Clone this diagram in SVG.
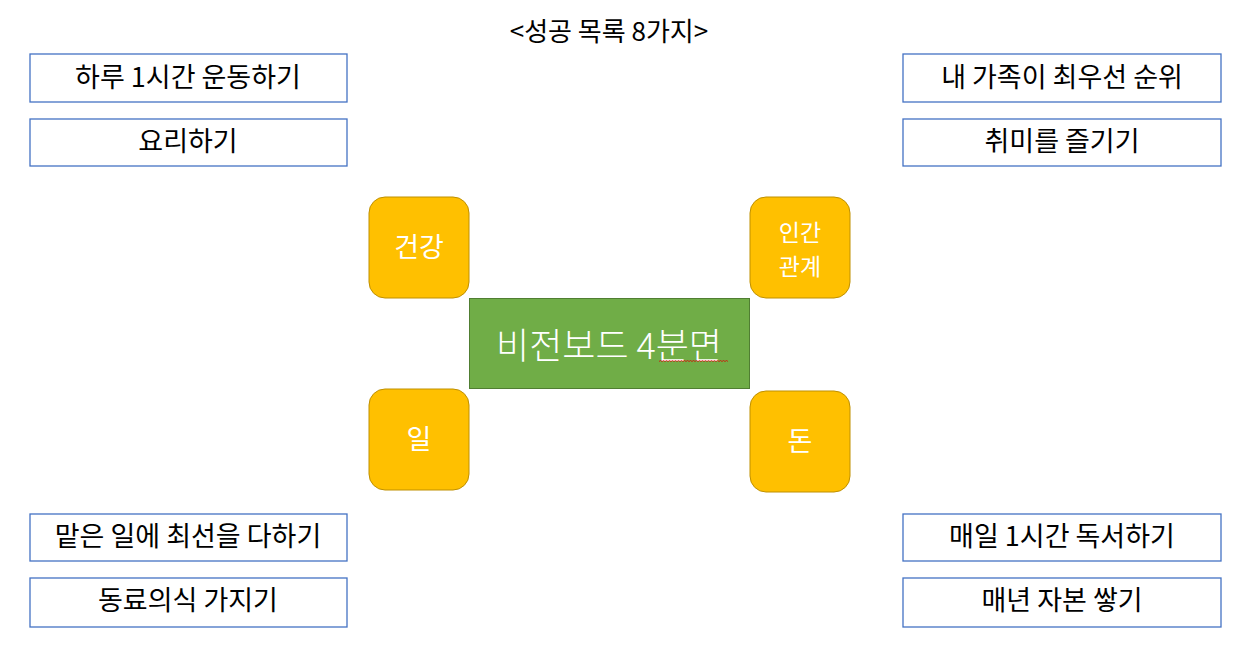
<svg xmlns="http://www.w3.org/2000/svg" width="1246" height="652" viewBox="0 0 1246 652">
<style>
.box{fill:#fff;stroke:#4472C4;stroke-width:1.3}
.bt{font-family:"Noto Sans CJK KR","Noto Sans",sans-serif;font-size:27px;fill:#000;text-anchor:middle}
.cat{fill:#FFC000;stroke:#BF9000;stroke-width:1}
.ct{font-family:"Noto Sans CJK KR","Noto Sans",sans-serif;font-size:27px;fill:#fff;text-anchor:middle}
.gt{font-family:"Noto Sans CJK KR","Noto Sans",sans-serif;font-size:36px;font-weight:300;fill:#fff;text-anchor:middle}
</style>
<rect width="1246" height="652" fill="#fff"/>
<text x="609" y="41" class="bt" style="font-size:26px">&lt;성공 목록 8가지&gt;</text>
<g id="n1"><rect class="box" x="30" y="54" width="317" height="48"/><text class="bt" x="188" y="87">하루 1시간 운동하기</text></g>
<g id="n2"><rect class="box" x="30" y="119" width="317" height="47"/><text class="bt" x="188" y="151">요리하기</text></g>
<g id="n3"><rect class="box" x="903" y="54" width="318" height="48"/><text class="bt" x="1062" y="87">내 가족이 최우선 순위</text></g>
<g id="n4"><rect class="box" x="903" y="119" width="318" height="47"/><text class="bt" x="1062" y="151">취미를 즐기기</text></g>
<g id="n5"><rect class="box" x="30" y="514" width="317" height="47"/><text class="bt" x="188" y="546">맡은 일에 최선을 다하기</text></g>
<g id="n6"><rect class="box" x="30" y="578" width="317" height="49"/><text class="bt" x="188" y="610">동료의식 가지기</text></g>
<g id="n7"><rect class="box" x="903" y="514" width="318" height="47"/><text class="bt" x="1062" y="546">매일 1시간 독서하기</text></g>
<g id="n8"><rect class="box" x="903" y="578" width="318" height="49"/><text class="bt" x="1062" y="610">매년 자본 쌓기</text></g>
<g id="c1"><rect class="cat" x="369" y="197" width="100" height="101" rx="16"/><text class="ct" x="419" y="257">건강</text></g>
<g id="c2"><rect class="cat" x="750" y="197" width="100" height="101" rx="16"/><text class="ct" x="800" y="241" style="font-size:23px">인간</text><text class="ct" x="800" y="274.5" style="font-size:23px">관계</text></g>
<g id="c3"><rect class="cat" x="369" y="389" width="100" height="101" rx="16"/><text class="ct" x="419" y="449">일</text></g>
<g id="c4"><rect class="cat" x="750" y="391" width="100" height="101" rx="16"/><text class="ct" x="800" y="451">돈</text></g>
<g id="center"><rect x="469.5" y="298.5" width="280" height="90" fill="#70AD47" stroke="#507E32" stroke-width="1"/>
<text x="609" y="359" class="gt">비전보드 4분면</text>
<path d="M659 361.5 l1.5 -1 1.5 1 1.5 -1 1.5 1 1.5 -1 1.5 1 1.5 -1 1.5 1 1.5 -1 1.5 1 1.5 -1 1.5 1 1.5 -1 1.5 1 1.5 -1 1.5 1 1.5 -1 1.5 1 1.5 -1 1.5 1 1.5 -1 1.5 1 1.5 -1 1.5 1 1.5 -1 1.5 1 1.5 -1 1.5 1 1.5 -1 1.5 1 1.5 -1 1.5 1 1.5 -1 1.5 1 1.5 -1 1.5 1 1.5 -1 1.5 1 1.5 -1 1.5 1 1.5 -1 1.5 1 1.5 -1 1.5 1 1.5 -1 1.5 1" fill="none" stroke="#d00" stroke-width="0.8"/>
</g>
<g id="connectors"/>
</svg>
